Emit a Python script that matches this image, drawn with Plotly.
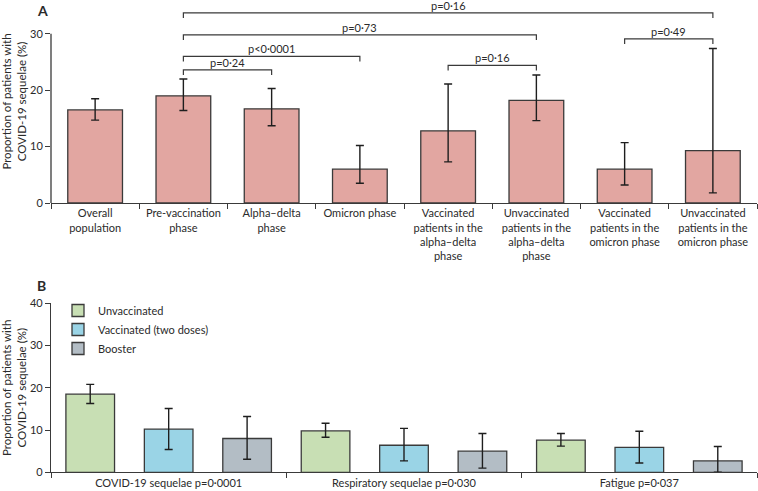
import plotly.graph_objects as go

# ---- Panel A data ----
cats_a = [
    "Overall<br>population",
    "Pre-vaccination<br>phase",
    "Alpha–delta<br>phase",
    "Omicron phase",
    "Vaccinated<br>patients in the<br>alpha–delta<br>phase",
    "Unvaccinated<br>patients in the<br>alpha–delta<br>phase",
    "Vaccinated<br>patients in the<br>omicron phase",
    "Unvaccinated<br>patients in the<br>omicron phase",
]
vals_a = [16.5, 19.0, 16.7, 6.0, 12.8, 18.2, 6.0, 9.3]
upper_a = [18.5, 22.0, 20.3, 10.2, 21.1, 22.7, 10.7, 27.4]
lower_a = [14.7, 16.4, 13.7, 3.5, 7.3, 14.6, 3.2, 1.8]

# comparisons: (index from, index to, label)
comp_pairs = [(1, 7), (1, 5), (1, 3), (1, 2), (4, 5), (6, 7)]
comp_labels = ["p=0·16", "p=0·73", "p<0·0001", "p=0·24", "p=0·16", "p=0·49"]
comp_heights = [33.7, 29.8, 26.0, 23.6, 24.4, 29.1]

# ---- Panel B data ----
cats_b = ["COVID-19 sequelae p=0·0001", "Respiratory sequelae p=0·030", "Fatigue p=0·037"]
groups_b = ["Unvaccinated", "Vaccinated (two doses)", "Booster"]
vals_b = [
    [18.5, 9.8, 7.6],
    [10.2, 6.4, 5.9],
    [8.0, 5.0, 2.7],
]
upper_b = [
    [20.8, 11.6, 9.2],
    [15.1, 10.4, 9.7],
    [13.2, 9.2, 6.1],
]
lower_b = [
    [16.3, 8.3, 6.2],
    [5.4, 2.7, 2.2],
    [3.1, 1.0, 0.0],
]

FONT = "Lato, 'Open Sans', sans-serif"
TXT = "#2a2a2a"
EDGE = "#3a3a3a"
COLORS_B = ["#C8DFB4", "#9AD4E6", "#B3BDC5"]
FS = 11

W, H = 758, 491
x_dom = [51 / W, 757 / W]

fig = go.Figure()

err_style = dict(type="data", symmetric=False, color="#1e1e1e", thickness=1.4, width=4)

fig.add_trace(go.Bar(
    x=cats_a, y=vals_a,
    error_y=dict(err_style,
                 array=[u - v for u, v in zip(upper_a, vals_a)],
                 arrayminus=[v - l for v, l in zip(vals_a, lower_a)]),
    marker=dict(color="#E2A6A1", line=dict(color=EDGE, width=1.3)),
    xaxis="x", yaxis="y", showlegend=False,
))

for g, name in enumerate(groups_b):
    fig.add_trace(go.Bar(
        x=cats_b, y=vals_b[g], name=name,
        error_y=dict(err_style,
                     array=[u - v for u, v in zip(upper_b[g], vals_b[g])],
                     arrayminus=[v - l for v, l in zip(vals_b[g], lower_b[g])]),
        marker=dict(color=COLORS_B[g], line=dict(color=EDGE, width=1.3)),
        xaxis="x2", yaxis="y2",
    ))

# significance brackets
shapes = []
annotations = []
tick = 0.9
for (i0, i1), lab, h in zip(comp_pairs, comp_labels, comp_heights):
    shapes.append(dict(
        type="path", xref="x", yref="y",
        path=f"M{i0},{h - tick} L{i0},{h} L{i1},{h} L{i1},{h - tick}",
        line=dict(color=EDGE, width=1.2),
    ))
    annotations.append(dict(
        x=(i0 + i1) / 2, y=h, xref="x", yref="y", text=lab, showarrow=False,
        yanchor="bottom", yshift=-1, font=dict(size=FS, color=TXT),
    ))

# left axis line of panel A, stopping at the top tick
shapes.append(dict(type="line", xref="x domain", yref="y", x0=0, x1=0, y0=0, y1=30,
                   line=dict(color=EDGE, width=1.3)))

annotations += [
    dict(x=35 / W, y=1, xref="paper", yref="paper", text="<b>A</b>",
         showarrow=False, xanchor="left", yanchor="top", font=dict(size=14, color=TXT)),
    dict(x=35 / W, y=1 - 285 / H, xref="paper", yref="paper", text="<b>B</b>",
         showarrow=False, xanchor="left", yanchor="middle", font=dict(size=14, color=TXT)),
]

ytitle = "Proportion of patients with<br>COVID-19 sequelae (%)"
common_x = dict(type="category", tickson="boundaries", ticks="outside", ticklen=5,
                tickcolor=EDGE, tickwidth=1.3, showline=True, linecolor=EDGE, linewidth=1.3,
                showgrid=False, zeroline=False, tickfont=dict(size=FS, color=TXT),
                tickangle=0, fixedrange=True, automargin=False)
common_y = dict(ticks="outside", ticklen=5, tickcolor=EDGE, tickwidth=1.3, showgrid=False,
                zeroline=False, tickfont=dict(size=FS, color=TXT), fixedrange=True,
                automargin=False,
                title=dict(text=ytitle, font=dict(size=11.5, color=TXT), standoff=7))

fig.update_layout(
    width=W, height=H,
    margin=dict(l=0, r=0, t=0, b=0),
    paper_bgcolor="white", plot_bgcolor="white",
    font=dict(family=FONT, size=FS, color=TXT),
    barmode="group", bargap=0, bargroupgap=0.38,
    xaxis=dict(common_x, domain=x_dom, anchor="y"),
    yaxis=dict(common_y, domain=[(H - 203) / H, 1], range=[0, 36],
               tickvals=[0, 10, 20, 30], showline=False),
    xaxis2=dict(common_x, domain=x_dom, anchor="y2"),
    yaxis2=dict(common_y, domain=[(H - 472.3) / H, (H - 303.3) / H], range=[0, 40],
                dtick=10, showline=True, linecolor=EDGE, linewidth=1.3),
    legend=dict(x=58 / W, y=1 - 296 / H, xanchor="left", yanchor="top",
                bgcolor="rgba(0,0,0,0)", font=dict(size=FS, color=TXT),
                itemwidth=30, tracegroupgap=0),
    shapes=shapes,
    annotations=annotations,
)

fig.write_html("out.html", config={"displayModeBar": False},
               post_script="document.body.style.margin='0';")
